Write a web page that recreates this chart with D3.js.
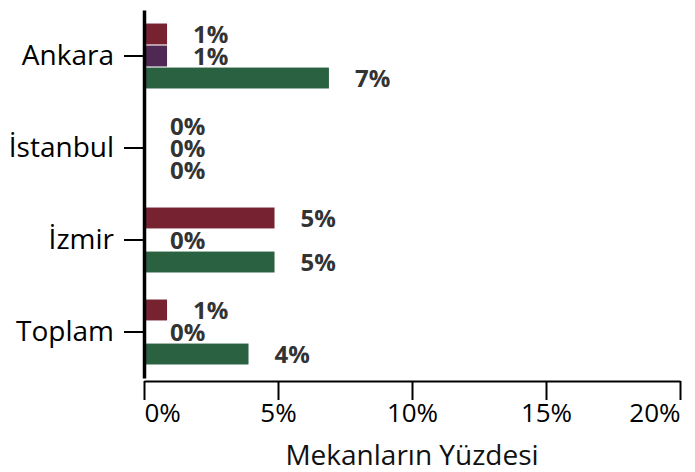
<!DOCTYPE html>
<html>
<head>
<meta charset="utf-8">
<script src="https://cdn.jsdelivr.net/npm/d3@7"></script>
<style>
  body { margin: 0; background: #fff; }
  text { font-family: "Open Sans", sans-serif; }
</style>
</head>
<body>
<div id="chart"></div>
<script>
let categories = ['Ankara', 'İstanbul', 'İzmir', 'Toplam'];
let seriesNames = ['s1', 's2', 's3'];
let seriesColors = ['#772230', '#4f2853', '#2a6141'];
let s1Values = [0.86, 0, 4.87, 0.86];
let s2Values = [0.86, 0, 0, 0];
let s3Values = [6.9, 0, 4.87, 3.9];
let valueLabels = [
    ['1%', '1%', '7%'],
    ['0%', '0%', '0%'],
    ['5%', '0%', '5%'],
    ['1%', '0%', '4%']
];
let xTicks = [0, 5, 10, 15, 20];

let width = 695;
let height = 472;
let margin = {top: 10, right: 15, bottom: 90, left: 144};

let svg = d3.select('#chart').append('svg')
    .attr('width', width)
    .attr('height', height);

let x = d3.scaleLinear()
    .domain([0, 20])
    .range([margin.left, width - margin.right]);

let y0 = d3.scaleBand()
    .domain(categories)
    .range([margin.top, 378])
    .paddingInner(0.27)
    .paddingOuter(0.135);

let y1 = d3.scaleBand()
    .domain(seriesNames)
    .range([0, y0.bandwidth()])
    .padding(0.05);

let allValues = [s1Values, s2Values, s3Values];
let rows = categories.map((c, i) => ({
    cat: c,
    vals: seriesNames.map((s, j) => ({s: s, j: j, v: allValues[j][i], label: valueLabels[i][j]}))
}));

let groups = svg.selectAll('.grp')
    .data(rows)
    .enter()
    .append('g')
    .attr('class', 'grp')
    .attr('transform', d => `translate(0,${y0(d.cat)})`);

groups.selectAll('rect')
    .data(d => d.vals)
    .enter()
    .append('rect')
    .attr('x', x(0))
    .attr('y', d => y1(d.s))
    .attr('width', d => x(d.v) - x(0))
    .attr('height', y1.bandwidth())
    .attr('fill', d => seriesColors[d.j]);

groups.selectAll('.lbl')
    .data(d => d.vals)
    .enter()
    .append('text')
    .attr('class', 'lbl')
    .attr('x', d => x(d.v) + 26)
    .attr('y', d => y1(d.s) + y1.bandwidth() / 2)
    .attr('dy', '0.36em')
    .attr('font-size', 24)
    .attr('font-weight', 'bold')
    .attr('fill', '#333')
    .text(d => d.label);

// x axis
let xAxis = svg.append('g')
    .attr('transform', `translate(0,381)`)
    .call(d3.axisBottom(x).tickValues(xTicks).tickFormat(d => d + '%').tickSize(19).tickPadding(4).tickSizeOuter(0));
xAxis.select('.domain').attr('stroke', '#000').attr('stroke-width', 2);
xAxis.selectAll('.tick line').attr('stroke', '#000').attr('stroke-width', 2);
xAxis.selectAll('.tick text')
    .attr('font-size', 26)
    .attr('font-family', '"Open Sans", sans-serif')
    .attr('fill', '#000')
    .attr('dy', '0.71em')
    .attr('text-anchor', (d, i) => i == 0 ? 'start' : (i == xTicks.length - 1 ? 'end' : 'middle'));

svg.append('text')
    .attr('x', (x(0) + x(20)) / 2)
    .attr('y', 465)
    .attr('text-anchor', 'middle')
    .attr('font-size', 28)
    .attr('fill', '#111')
    .text('Mekanların Yüzdesi');

// y axis
let yAxis = svg.append('g')
    .attr('transform', `translate(${x(0)},0)`)
    .call(d3.axisLeft(y0).tickSize(20).tickPadding(10).tickSizeOuter(0));
yAxis.select('.domain').attr('stroke', '#000').attr('stroke-width', 3.5);
yAxis.selectAll('.tick line').attr('stroke', '#000').attr('stroke-width', 2);
yAxis.selectAll('.tick text')
    .attr('font-size', 28)
    .attr('font-family', '"Open Sans", sans-serif')
    .attr('fill', '#000');
</script>
</body>
</html>
